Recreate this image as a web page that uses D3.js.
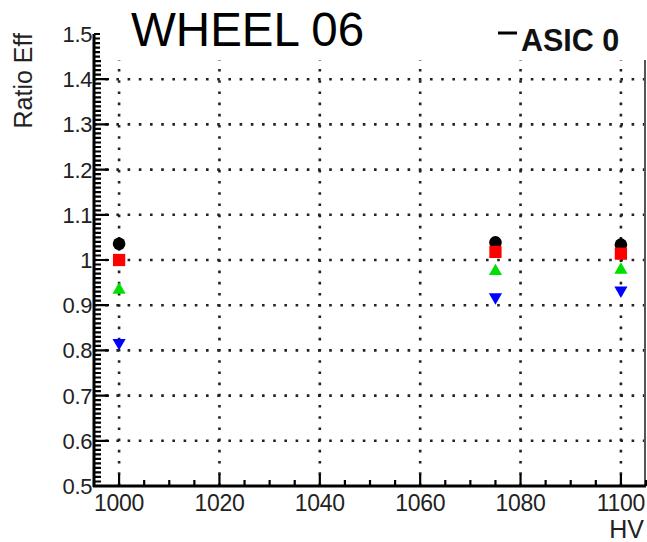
<!DOCTYPE html>
<html><head><meta charset="utf-8">
<script src="https://cdn.jsdelivr.net/npm/d3@7"></script>
<style>html,body{margin:0;padding:0;background:#fff;}svg{display:block;}</style>
</head><body>
<svg id="c" width="647" height="542"></svg>
<script>
const hv = [1000, 1075, 1100];
const seriesBlack = [1.036, 1.039, 1.034];
const seriesRed = [1.000, 1.018, 1.014];
const seriesGreen = [0.934, 0.975, 0.978];
const seriesBlue = [0.817, 0.918, 0.933];
const xMajorTicks = [1000, 1020, 1040, 1060, 1080, 1100];
const yMajorTicks = [0.5, 0.6, 0.7, 0.8, 0.9, 1.0, 1.1, 1.2, 1.3, 1.4, 1.5];
const yTickLabels = ["0.5","0.6","0.7","0.8","0.9","1","1.1","1.2","1.3","1.4","1.5"];
const titleText = "WHEEL 06";
const legendText = "ASIC 0";
const xTitle = "HV";
const yTitle = "Ratio Eff";

const svg = d3.select("#c");
const x = d3.scaleLinear().domain([995, 1105]).range([94, 646]);
const y = d3.scaleLinear().domain([0.5, 1.5]).range([486, 34]);
const font = "'Liberation Sans', Arial, Helvetica, sans-serif";

// grid
const grid = svg.append("g").attr("stroke", "#222").attr("stroke-width", 2.6)
  .attr("stroke-dasharray", "2.6,8.6").attr("fill", "none");
xMajorTicks.forEach(t => grid.append("line")
  .attr("x1", x(t)).attr("x2", x(t)).attr("y1", y(0.5)).attr("y2", y(1.5)));
yMajorTicks.filter(t => t > 0.5 && t < 1.5).forEach(t => grid.append("line")
  .attr("x1", x(995)).attr("x2", x(1105)).attr("y1", y(t)).attr("y2", y(t)));

// right frame line
svg.append("line").attr("x1", 645).attr("x2", 645).attr("y1", y(0.5)).attr("y2", y(1.5))
  .attr("stroke", "#555").attr("stroke-width", 2);

// axis lines
svg.append("line").attr("x1", 93).attr("x2", 646).attr("y1", y(0.5)).attr("y2", y(0.5))
  .attr("stroke", "#000").attr("stroke-width", 3);
svg.append("line").attr("x1", x(995)).attr("x2", x(995)).attr("y1", y(0.5) + 1).attr("y2", y(1.5))
  .attr("stroke", "#000").attr("stroke-width", 3);

// ticks (pointing inward), drawn as one path
const xMinor = d3.range(995, 1106, 5);
const yMinor = d3.range(50, 151).map(v => v / 100);
let tickPath = "";
xMinor.forEach(t => {
  const len = xMajorTicks.includes(t) ? 12 : 6;
  tickPath += `M${x(t)},${y(0.5)}V${y(0.5) - len}`;
});
yMinor.forEach((t, i) => {
  const len = (i % 10) === 0 ? 15 : 7;
  tickPath += `M${x(995)},${y(t)}H${x(995) + len}`;
});
svg.append("path").attr("d", tickPath).attr("stroke", "#000").attr("stroke-width", 2.2).attr("fill", "none");

xMajorTicks.forEach(t => svg.append("text").attr("x", x(t)).attr("y", 511)
  .attr("text-anchor", "middle").attr("font-family", font).attr("font-size", 23)
  .attr("letter-spacing", -0.3).attr("fill", "#222").text(t));
yMajorTicks.forEach((t, i) => svg.append("text").attr("x", 92).attr("y", y(t) + 8)
  .attr("text-anchor", "end").attr("font-family", font).attr("font-size", 22)
  .attr("letter-spacing", -0.4).attr("fill", "#222").text(yTickLabels[i]));

// legend box (covers top of frame)
svg.append("rect").attr("x", 100).attr("y", 0).attr("width", 547).attr("height", 60).attr("fill", "#fff");
svg.append("line").attr("x1", 498).attr("x2", 517).attr("y1", 33).attr("y2", 33)
  .attr("stroke", "#000").attr("stroke-width", 3);
svg.append("text").attr("x", 521).attr("y", 51).attr("font-family", font).attr("font-weight", "bold")
  .attr("font-size", 30.5).attr("fill", "#111").text(legendText);

// title
svg.append("text").attr("x", 131).attr("y", 46).attr("font-family", font)
  .attr("font-size", 47.5).attr("fill", "#000").text(titleText);

// axis titles
svg.append("text").attr("x", 644).attr("y", 538).attr("text-anchor", "end").attr("font-family", font)
  .attr("font-size", 25).attr("fill", "#222").text(xTitle);
svg.append("text").attr("transform", "translate(32,33) rotate(-90)").attr("text-anchor", "end")
  .attr("font-family", font).attr("font-size", 25).attr("fill", "#222").text(yTitle);

// markers
const series = [
  {vals: seriesBlack, color: "#000", type: d3.symbolCircle, size: 125, rot: 0},
  {vals: seriesRed, color: "#ff0000", type: d3.symbolSquare, size: 150, rot: 0},
  {vals: seriesGreen, color: "#00e000", type: d3.symbolTriangle, size: 75, rot: 0},
  {vals: seriesBlue, color: "#0000ff", type: d3.symbolTriangle, size: 75, rot: 180}
];
series.forEach(s => {
  const sym = d3.symbol().type(s.type).size(s.size);
  svg.append("g").selectAll("path").data(hv).join("path")
    .attr("d", sym)
    .attr("transform", (d, i) => `translate(${x(d)},${y(s.vals[i])}) rotate(${s.rot})`)
    .attr("fill", s.color);
});
</script>
</body></html>
